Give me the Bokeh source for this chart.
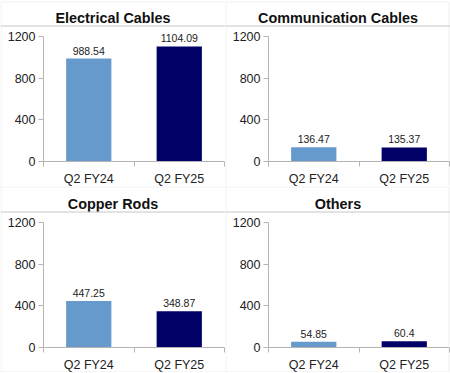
from bokeh.plotting import figure
from bokeh.models import (ColumnDataSource, Range1d, FixedTicker, BoxAnnotation,
                          LabelSet, Label, Span, LinearAxis)
from bokeh.core.properties import value
from bokeh.layouts import gridplot
from bokeh.embed import file_html
from bokeh.resources import INLINE

titles = ["Electrical Cables", "Communication Cables", "Copper Rods", "Others"]
periods = ["Q2 FY24", "Q2 FY25"]
fy24 = [988.54, 136.47, 447.25, 54.85]
fy25 = [1104.09, 135.37, 348.87, 60.4]
y_ticks = [0, 400, 800, 1200]
colors = ["#6699cc", "#000066"]

# layout (pixels)
W, H = 225, 186
AX_X = 43          # canvas x of the y axis
AX_Y = 161         # canvas y of the x axis
PX_X = 90.5        # pixels per category
PX_Y = 125 / 1200  # pixels per unit
FONT = "Liberation Sans"
GRAY = "#c6c6c6"
AXC = "#b4b4b4"


def panel(title, vals, col, row):
    xr = Range1d(-AX_X / PX_X, (W - AX_X) / PX_X)
    yr = Range1d(-(H - AX_Y) / PX_Y, AX_Y / PX_Y)
    p = figure(width=W, height=H, output_backend="svg", toolbar_location=None, tools="",
               x_range=xr, y_range=yr, min_border=0,
               x_axis_location=None, y_axis_location=None)
    p.outline_line_color = None
    p.xgrid.visible = False
    p.ygrid.visible = False
    p.background_fill_color = "white"
    p.border_fill_color = "white"

    xs = [i + 0.5 for i in range(len(periods))]
    src = ColumnDataSource(dict(x=xs, top=vals, color=colors,
                                label=[f"{v:g}" for v in vals]))
    p.vbar(x="x", top="top", width=0.5, fill_color="color", line_color=None, source=src)
    p.add_layout(LabelSet(x="x", y="top", text="label", source=src, y_offset=4,
                          text_align="center", text_baseline="bottom",
                          text_font=value(FONT), text_font_size="10.5px",
                          text_color="#222222"))

    ya = LinearAxis(fixed_location=0)
    ya.ticker = FixedTicker(ticks=y_ticks)
    ya.bounds = (0, 1200)
    ya.axis_line_color = AXC
    ya.major_tick_line_color = AXC
    ya.major_tick_out = 5
    ya.major_tick_in = 0
    ya.minor_tick_line_color = None
    ya.major_label_text_font = FONT
    ya.major_label_text_font_size = "12.5px"
    ya.major_label_text_color = "#222222"
    ya.major_label_standoff = 3
    p.add_layout(ya, "left")

    xa = LinearAxis(fixed_location=0)
    xa.ticker = FixedTicker(ticks=xs, minor_ticks=list(range(len(periods) + 1)))
    xa.bounds = (0, len(periods))
    xa.major_label_overrides = {x: lab for x, lab in zip(xs, periods)}
    xa.axis_line_color = AXC
    xa.major_tick_out = 0
    xa.major_tick_in = 0
    xa.minor_tick_line_color = AXC
    xa.minor_tick_out = 5
    xa.minor_tick_in = 0
    xa.major_label_text_font = FONT
    xa.major_label_text_font_size = "12.5px"
    xa.major_label_text_color = "#222222"
    xa.major_label_standoff = 5
    p.add_layout(xa, "below")

    # title
    p.add_layout(Label(x=W / 2, y=H - 17, x_units="screen", y_units="screen", text=title,
                       text_align="center", text_baseline="middle",
                       text_font=FONT, text_font_size="14.4px",
                       text_font_style="bold", text_color="#111111"))
    # separator under title
    p.add_layout(Span(location=H - 25.5, location_units="screen", dimension="width",
                      line_color=GRAY, line_width=1))
    # panel frame lines
    top = H - (1.5 if row == 0 else 0.5)
    bottom = 0.5 if row == 1 else -2
    right = W - 1.5 if col == 1 else W + 2
    p.add_layout(BoxAnnotation(left=0.5, right=right, top=top, bottom=bottom,
                               left_units="screen", right_units="screen",
                               top_units="screen", bottom_units="screen",
                               fill_alpha=0, line_color=GRAY, line_width=1))
    return p


figs = [panel(t, [a, b], i % 2, i // 2) for i, (t, a, b) in enumerate(zip(titles, fy24, fy25))]
grid = gridplot([[figs[0], figs[1]], [figs[2], figs[3]]], toolbar_location=None)

open("out.html", "w").write(file_html(grid, INLINE))
